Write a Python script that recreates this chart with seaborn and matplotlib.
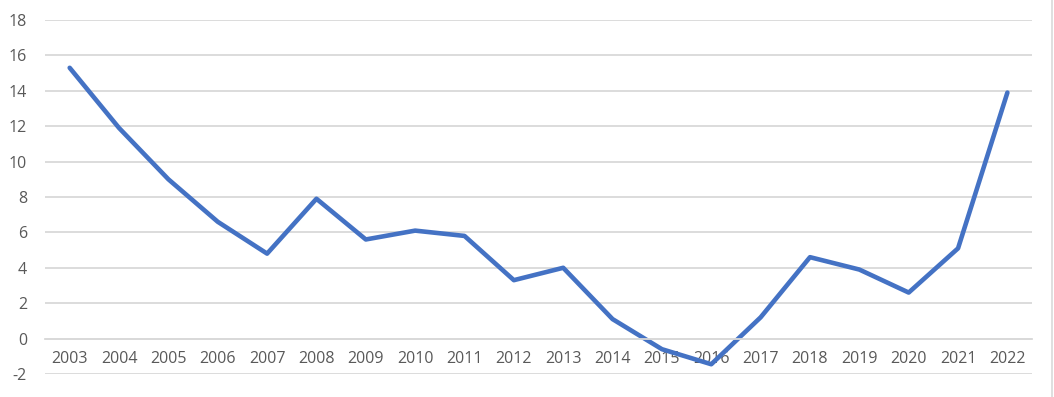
import matplotlib
matplotlib.use("Agg")
import matplotlib.pyplot as plt
import seaborn as sns
import pandas as pd

# values
years = [str(y) for y in range(2003, 2023)]
values = [15.3, 11.9, 9.0, 6.6, 4.8, 7.9, 5.6, 6.1, 5.8, 3.3,
          4.0, 1.1, -0.6, -1.45, 1.2, 4.6, 3.9, 2.6, 5.1, 13.9]
y_ticks = list(range(-2, 20, 2))

df = pd.DataFrame({"Year": years, "Value": values})

sns.set_theme(style="white")
plt.rcParams['font.family'] = ['Open Sans', 'DejaVu Sans']
plt.rcParams['axes.unicode_minus'] = False

fig = plt.figure(figsize=(10.54, 3.97), dpi=100)
ax = fig.add_axes([0.0427, 0.058, 0.9365, 0.8916])

sns.lineplot(data=df, x="Year", y="Value", ax=ax, color="#4472C4",
             linewidth=3.3, sort=False, solid_capstyle="round",
             solid_joinstyle="round")

ax.set_ylim(-2, 18)
ax.set_xlim(-0.5, len(years) - 0.5)
ax.set_yticks(y_ticks)
ax.yaxis.grid(True, color="#d9d9d9", linewidth=1.3)
ax.set_axisbelow(True)

# Excel style: category axis sits at zero
for s in ["top", "right", "left"]:
    ax.spines[s].set_visible(False)
ax.spines["bottom"].set_position(("data", 0))
ax.spines["bottom"].set_color("#d9d9d9")
ax.spines["bottom"].set_linewidth(1.3)

ax.tick_params(axis="both", length=0, labelsize=11.5, labelcolor="#595959")
ax.tick_params(axis="y", pad=13)
ax.tick_params(axis="x", pad=9)
ax.set_xlabel("")
ax.set_ylabel("")

# chart area border on the right edge
fig.add_artist(plt.Line2D([0.9985, 0.9985], [0, 1], color="#d9d9d9",
                          linewidth=1.2, transform=fig.transFigure))

fig.savefig("out.png", dpi=100)
